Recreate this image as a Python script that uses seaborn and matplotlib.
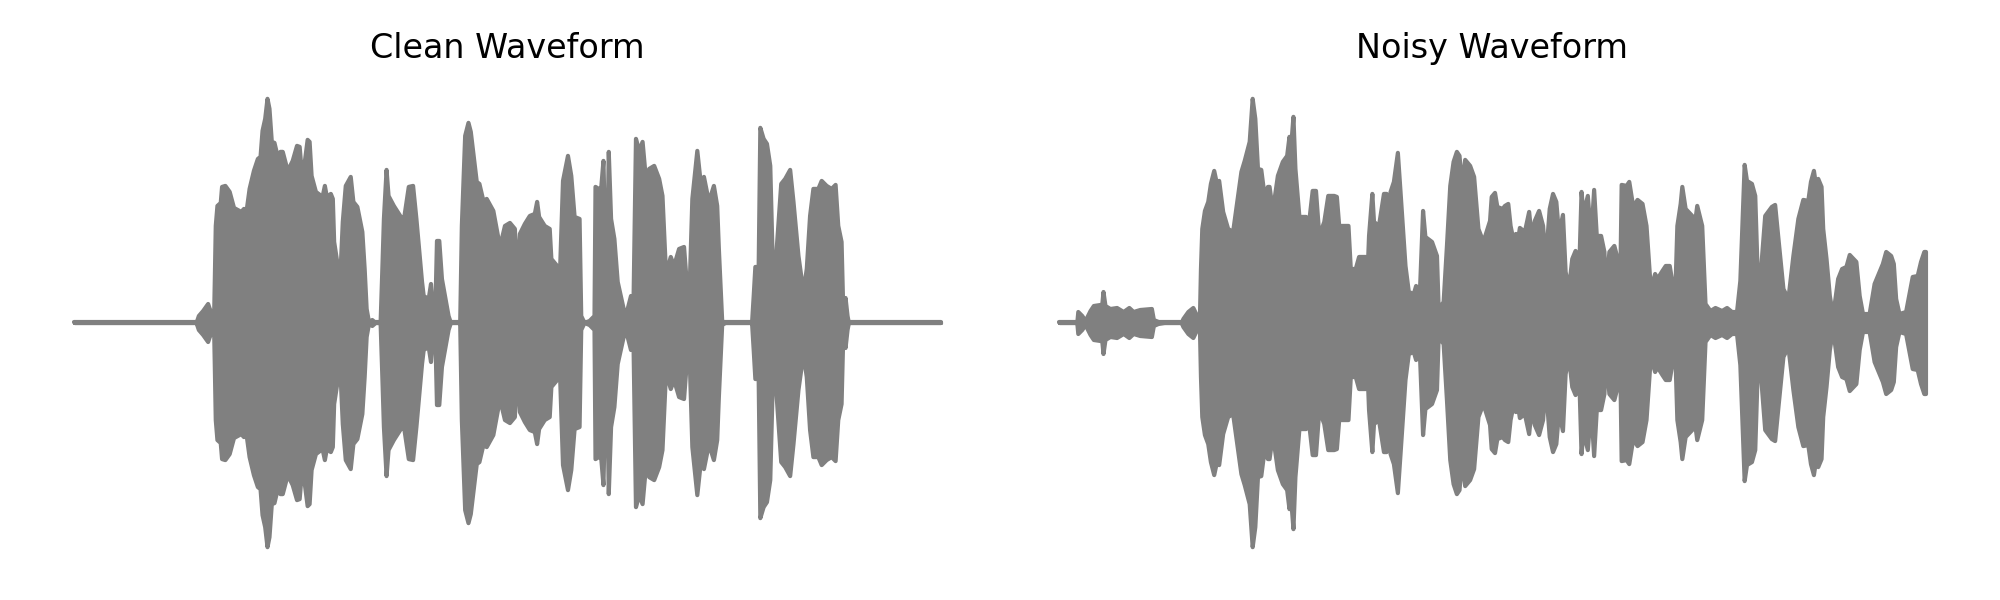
import numpy as np
import pandas as pd
import seaborn as sns
import matplotlib.pyplot as plt

# envelope of each waveform (time in frames, amplitude peak)
clean_time = [0, 367, 374, 387, 402, 407, 420, 422, 425, 430, 440, 444, 454, 467, 480, 502, 510, 518, 527, 540,
              552, 560, 566, 574, 581, 587, 594, 602, 612, 620, 627, 642, 657, 670, 678, 684, 692, 702, 708, 714,
              727, 747, 754, 760, 772, 778, 782, 800, 808, 817, 832, 840, 852, 867, 874, 880, 887, 897, 907, 922,
              927, 932, 940, 946, 962, 987, 989, 994, 1007, 1020, 1030, 1047, 1052, 1067, 1074, 1080, 1087, 1092,
              1099, 1107, 1127, 1134, 1162, 1167, 1177, 1187, 1194, 1212, 1220, 1232, 1242, 1262, 1282, 1297, 1312,
              1327, 1332, 1342, 1357, 1372, 1387, 1394, 1400, 1417, 1432, 1437, 1457, 1462, 1472, 1487, 1497, 1507,
              1522, 1527, 1537, 1552, 1567, 1570, 1580, 1587, 1594, 1598, 1607, 1610, 1617, 1627, 1637, 1657, 1667,
              1677, 1684, 1692, 1702, 1712, 1722, 1732, 1747, 1762, 1772, 1782, 1787, 1797, 1807, 1822, 1837, 1842,
              1852, 1862, 1877, 1887, 1897, 1912, 1927, 1937, 1942, 1952, 1962, 2042, 2047, 2052, 2062, 2067, 2077,
              2087, 2097, 2107, 2117, 2130, 2142, 2157, 2167, 2182, 2197, 2207, 2217, 2227, 2242, 2252, 2267, 2282,
              2294, 2302, 2312, 2317, 2324, 2330, 2334, 2612]
clean_peak = [0, 0, 9, 14, 21, 16, 8, 43, 99, 119, 122, 138, 139, 133, 117, 113, 116, 114, 136, 154,
              166, 168, 194, 206, 226, 216, 183, 182, 168, 173, 173, 154, 164, 179, 178, 154, 159, 185, 183, 149,
              133, 128, 139, 128, 131, 126, 83, 44, 103, 139, 148, 123, 118, 93, 56, 16, 3, 5, 1, 1,
              53, 106, 155, 129, 119, 106, 39, 109, 138, 139, 106, 43, 29, 26, 41, 14, 13, 84,
              84, 46, 9, 1, 1, 99, 189, 202, 193, 143, 141, 124, 126, 114, 78, 99, 102,
              96, 43, 91, 101, 109, 111, 123, 108, 99, 96, 66, 58, 43, 144, 169, 149, 108,
              106, 9, 2, 4, 9, 138, 136, 136, 164, 103, 103, 173, 106, 86, 43, 13, 16,
              29, 9, 186, 174, 183, 146, 156, 159, 146, 129, 56, 56, 68, 59, 76, 78, 56,
              16, 126, 174, 143, 148, 123, 139, 119, 76, 4, 1, 1, 29, 58, 58, 197, 186,
              181, 159, 29, 79, 141, 146, 155, 123, 69, 33, 56, 109, 136, 136, 144, 139, 136,
              140, 99, 83, 16, 27, 9, 1, 0]

noisy_time = [0, 53, 56, 68, 78, 93, 103, 123, 128, 132, 138, 153, 173, 193, 210, 223, 243, 278, 284, 298,
              318, 368, 373, 388, 403, 416, 423, 426, 430, 438, 448, 456, 466, 473, 481, 493, 508, 523, 538, 548,
              558, 573, 582, 590, 598, 608, 618, 628, 633, 643, 658, 673, 686, 693, 698, 705, 711, 723, 743, 750,
              763, 773, 783, 798, 810, 828, 836, 843, 863, 871, 878, 893, 903, 923, 928, 933, 943, 948, 963, 978,
              986, 990, 998, 1008, 1020, 1028, 1043, 1053, 1068, 1075, 1086, 1096, 1103, 1123, 1138, 1143, 1158,
              1168, 1178, 1188, 1198, 1206, 1213, 1223, 1238, 1250, 1263, 1278, 1298, 1303, 1313, 1320, 1336, 1343,
              1353, 1360, 1368, 1376, 1383, 1388, 1403, 1416, 1423, 1433, 1446, 1458, 1466, 1478, 1488, 1498, 1506,
              1518, 1526, 1536, 1546, 1556, 1568, 1574, 1580, 1593, 1603, 1612, 1620, 1633, 1643, 1648, 1658, 1673,
              1683, 1690, 1695, 1710, 1718, 1730, 1743, 1758, 1770, 1783, 1796, 1803, 1818, 1828, 1840, 1848, 1855,
              1863, 1873, 1878, 1888, 1908, 1914, 1923, 1938, 1948, 1963, 1978, 1998, 2013, 2028, 2043, 2053, 2066,
              2073, 2088, 2098, 2108, 2128, 2148, 2158, 2168, 2183, 2198, 2213, 2228, 2243, 2258, 2266, 2275, 2282,
              2288, 2298, 2303, 2313, 2323, 2333, 2348, 2360, 2373, 2383, 2403, 2413, 2423, 2443, 2458, 2468, 2483,
              2493, 2508, 2516, 2523, 2533, 2553, 2573, 2588, 2598, 2608, 2613]
noisy_peak = [1, 1, 13, 9, 4, 14, 19, 20, 19, 33, 19, 16, 17, 13, 17, 13, 15, 16, 5, 3,
              1, 1, 6, 13, 17, 8, 9, 56, 96, 114, 123, 141, 154, 143, 144, 113, 96, 93, 129, 153,
              164, 183, 226, 206, 156, 155, 129, 138, 138, 114, 149, 163, 169, 188, 178, 208, 156, 108, 108, 96,
              134, 134, 89, 103, 129, 129, 128, 99, 99, 99, 56, 56, 68, 68, 46, 89, 131, 103, 99, 131,
              131, 86, 133, 143, 172, 133, 59, 33, 31, 39, 29, 114, 88, 83, 69, 16, 23,
              79, 139, 163, 173, 169, 139, 165, 159, 148, 96, 83, 104, 128, 132, 118, 116, 119,
              121, 99, 86, 91, 86, 97, 93, 113, 89, 104, 114, 99, 63, 116, 131, 123, 91,
              110, 53, 36, 66, 74, 66, 133, 111, 129, 86, 135, 89, 89, 73, 34, 73, 79,
              66, 23, 140, 139, 143, 118, 125, 121, 99, 36, 51, 46, 54, 59, 59, 43, 11,
              99, 121, 138, 116, 109, 96, 119, 99, 21, 14, 17, 14, 17, 13, 13, 44, 160,
              144, 141, 129, 23, 109, 118, 120, 86, 36, 26, 69, 106, 125, 124, 143, 154, 138,
              146, 138, 96, 66, 29, 9, 46, 56, 58, 70, 63, 29, 11, 11, 41, 49, 61,
              73, 69, 61, 26, 11, 13, 48, 49, 63, 73, 73]

titles = ['Clean Waveform', 'Noisy Waveform']
times = [clean_time, noisy_time]
peaks = [clean_peak, noisy_peak]

sns.set_style('white')

fig, axes = plt.subplots(1, 2, figsize=(20, 6), dpi=100)
fig.subplots_adjust(left=0.0142, right=0.9857, bottom=0.048, top=0.877, wspace=0.028)

for ax, titulo, t, p in zip(axes, titles, times, peaks):
    # the stroke of the band adds about 2 units to the drawn peak
    pico = np.clip(np.array(p, dtype=float) - 2, 0, None)
    t = np.array(t, dtype=float)
    dados = pd.DataFrame({
        'time': np.concatenate([t, t]),
        'amplitude': np.concatenate([pico, -pico])
    })
    sns.lineplot(data=dados, x='time', y='amplitude', ax=ax, color='gray', linewidth=3,
                 errorbar=('pi', 100), legend=False,
                 err_kws={'alpha': 1, 'linewidth': 3, 'edgecolor': 'gray', 'joinstyle': 'round'})
    ax.margins(x=0.053)
    ax.set_ylim(-248.5, 248.5)
    ax.set_title(titulo, fontsize=24, family='DejaVu Sans', color='black', pad=11.5)
    ax.axis('off')

plt.savefig('out.png', dpi=100)
